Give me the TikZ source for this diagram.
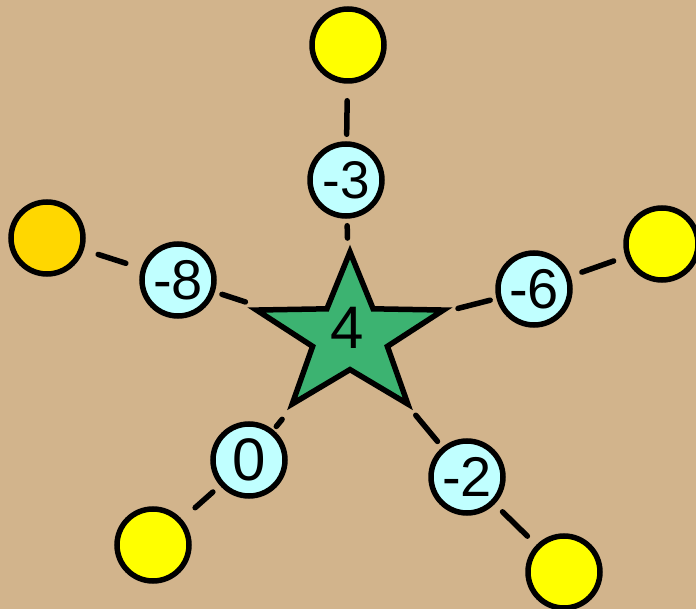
\documentclass[tikz,border=0pt]{standalone}
\usepackage{fontspec}
\setmainfont{Liberation Sans}
\usepackage{tikz}
\usetikzlibrary{shapes}
\definecolor{cBack}{HTML}{D2B48C}
\definecolor{cLeaf}{HTML}{FFFF00}
\definecolor{cGold}{HTML}{FFD700}
\definecolor{cVal}{HTML}{C0FFFF}
\definecolor{cRoot}{HTML}{3CB371}
\tikzstyle{ball} = [draw, circle, line width=5.5pt, minimum size=72pt, inner sep=0pt, font=\fontsize{56}{56}\selectfont]
\tikzstyle{leaf} = [ball, fill=cLeaf]
\tikzstyle{val} = [ball, fill=cVal]
\tikzstyle{link} = [line width=5.5pt, line cap=round]

\begin{document}
\begin{tikzpicture}[x=1pt, y=-1pt]
	\fill[cBack] (0,0) rectangle (696,609);
	\useasboundingbox (0,0) rectangle (696,609);
	
	% root star
	\node[star, star points=5, star point ratio=2.5, minimum size=168pt, inner sep=0pt, draw, line width=5.5pt, fill=cRoot, xscale=1.17] (R) at (350,336) {} ;
	\node[font=\fontsize{60}{60}\selectfont] (R') at (347,328) {4} ;
	
	% values round the star
	\node[val, font=\fontsize{53}{53}\selectfont] (V3) at (346,180) {-3} ;
	\node[val] (V8) at (178,280) {-8} ;
	\node[val] (V6) at (534,289) {-6} ;
	\node[val, font=\fontsize{60}{60}\selectfont] (V0) at (249,460) {0} ;
	\node[val] (V2) at (467,477) {-2} ;
	
	% leaves
	\node[leaf] (L3) at (348,45) {} ;
	\node[ball, fill=cGold] (L8) at (47,238) {} ;
	\node[leaf] (L6) at (662,244) {} ;
	\node[leaf] (L0) at (153,545) {} ;
	\node[leaf] (L2) at (564,572) {} ;
	
	\draw[link, shorten <=17pt, shorten >=7pt] (L3) -- (V3) ;
	\draw[link, shorten <=15pt, shorten >=16pt] (L8) -- (V8) ;
	\draw[link, shorten <=12.5pt, shorten >=12pt] (L6) -- (V6) ;
	\draw[link, shorten <=17.5pt, shorten >=9.5pt] (L0) -- (V0) ;
	\draw[link, shorten <=12.5pt, shorten >=11pt] (L2) -- (V2) ;
	
	\draw[link, shorten <=7pt, shorten >=98pt] (V3) -- (R.center) ;
	\draw[link, shorten <=7.5pt, shorten >=110pt] (V8) -- (R.center) ;
	\draw[link, shorten <=6.5pt, shorten >=111.5pt] (V6) -- (R.center) ;
	\draw[link, shorten <=4.5pt, shorten >=107.5pt] (V0) -- (R.center) ;
	\draw[link, shorten <=7.5pt, shorten >=103pt] (V2) -- (R.center) ;
\end{tikzpicture}
\end{document}
